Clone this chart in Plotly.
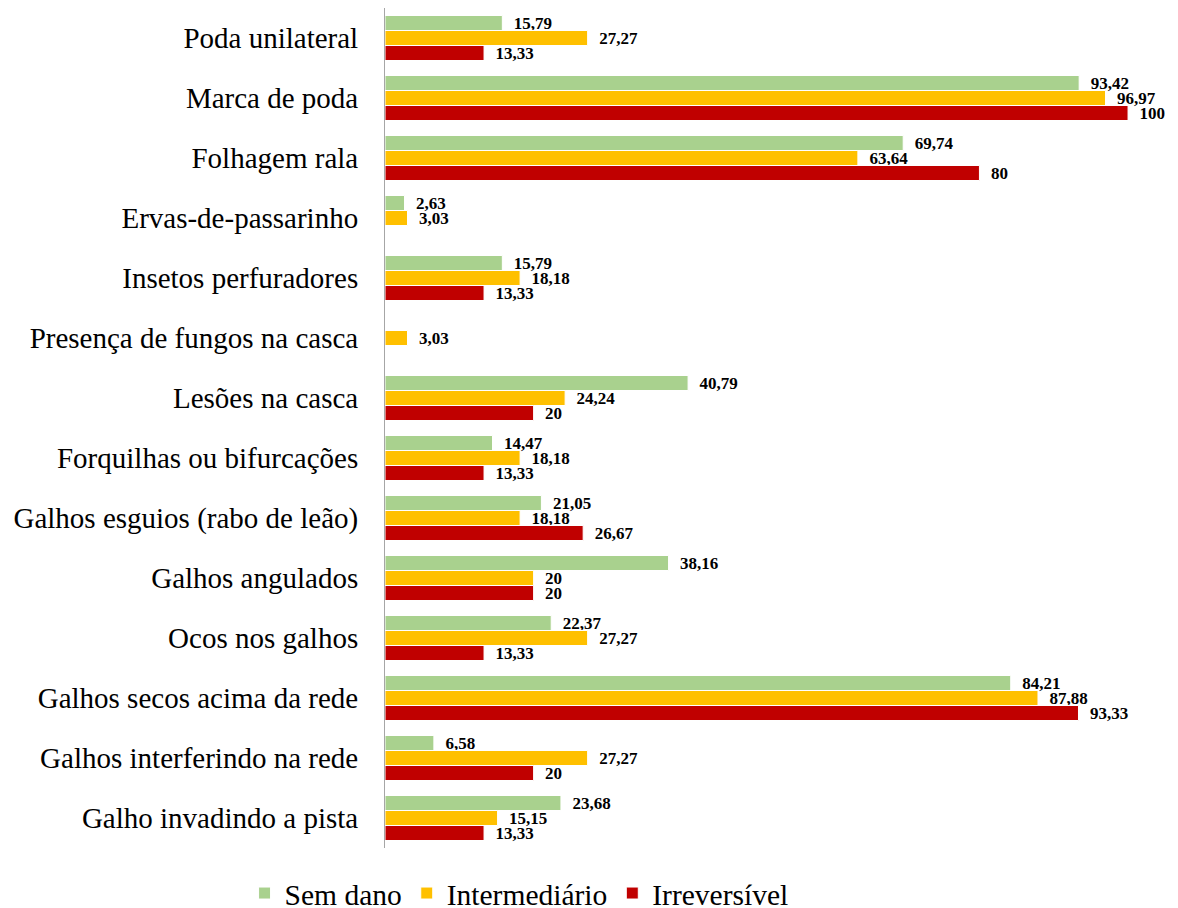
import plotly.graph_objects as go

categories = [
    "Poda unilateral",
    "Marca de poda",
    "Folhagem rala",
    "Ervas-de-passarinho",
    "Insetos perfuradores",
    "Presença de fungos na casca",
    "Lesões na casca",
    "Forquilhas ou bifurcações",
    "Galhos esguios (rabo de leão)",
    "Galhos angulados",
    "Ocos nos galhos",
    "Galhos secos acima da rede",
    "Galhos interferindo na rede",
    "Galho invadindo a pista",
]

sem_dano = [15.79, 93.42, 69.74, 2.63, 15.79, None, 40.79, 14.47, 21.05, 38.16, 22.37, 84.21, 6.58, 23.68]
intermediario = [27.27, 96.97, 63.64, 3.03, 18.18, 3.03, 24.24, 18.18, 18.18, 20, 27.27, 87.88, 27.27, 15.15]
irreversivel = [13.33, 100, 80, None, 13.33, None, 20, 13.33, 26.67, 20, 13.33, 93.33, 20, 13.33]

series = [
    ("Sem dano", sem_dano, "#A9D18E"),
    ("Intermediário", intermediario, "#FFC000"),
    ("Irreversível", irreversivel, "#C00000"),
]


def fmt(v):
    if v is None:
        return ""
    return "\u00a0\u00a0" + ("%g" % v).replace(".", ",")


FONT = "Liberation Serif, Times New Roman, serif"

fig = go.Figure()
for name, vals, color in series:
    fig.add_trace(go.Bar(
        y=categories,
        x=vals,
        name=name,
        orientation="h",
        marker=dict(color=color, line=dict(color="white", width=1)),
        text=[fmt(v) for v in vals],
        textposition="outside",
        constraintext="none",
        cliponaxis=False,
        textfont=dict(family=FONT, size=17, color="#000000", weight="bold"),
        hoverinfo="x+y+name",
    ))

fig.update_layout(
    width=1178,
    height=908,
    barmode="group",
    bargap=0.25,
    bargroupgap=0.0,
    plot_bgcolor="white",
    paper_bgcolor="white",
    margin=dict(l=377, r=26, t=0, b=68, autoexpand=False),
    font=dict(family=FONT, size=29, color="#000000"),
    showlegend=True,
    legend=dict(
        orientation="h",
        x=0.173,
        xanchor="center",
        y=-0.054,
        yanchor="middle",
        font=dict(family=FONT, size=29.5, color="#000000"),
        traceorder="normal",
    ),
    xaxis=dict(
        range=[0, 104.3],
        showgrid=False,
        zeroline=False,
        showticklabels=False,
        ticks="",
        showline=False,
    ),
    yaxis=dict(
        autorange="reversed",
        showgrid=False,
        showline=True,
        linecolor="#A6A6A6",
        linewidth=1,
        ticks="",
        ticklabelstandoff=20,
        tickfont=dict(family=FONT, size=29, color="#000000"),
    ),
)

fig.write_html("out.html")
